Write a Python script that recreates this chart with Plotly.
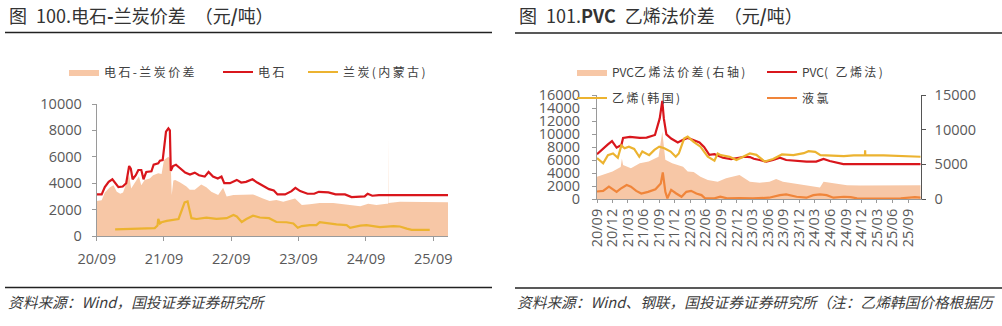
import plotly.graph_objects as go

W, H = 1002, 326

# ---------------- 图100：电石-兰炭价差 ----------------
cc_dates = [
    "2020-09-01", "2020-09-28", "2020-10-15", "2020-11-05", "2020-11-25", "2020-12-10",
    "2020-12-28", "2021-01-20", "2021-02-08", "2021-02-24", "2021-03-05", "2021-03-15",
    "2021-04-01", "2021-04-15", "2021-05-01", "2021-05-13", "2021-05-28", "2021-06-25",
    "2021-07-07", "2021-08-01", "2021-08-10", "2021-08-25", "2021-09-03", "2021-09-12",
    "2021-09-25", "2021-10-03", "2021-10-08", "2021-10-20", "2021-11-05", "2021-12-01",
    "2021-12-25", "2022-01-20", "2022-02-15", "2022-03-10", "2022-04-10", "2022-05-01",
    "2022-05-25", "2022-06-20", "2022-07-10", "2022-07-25", "2022-08-25", "2022-10-01",
    "2022-10-25", "2022-11-20", "2022-12-25", "2023-01-20", "2023-02-20", "2023-03-25",
    "2023-04-20", "2023-05-10", "2023-06-20", "2023-07-25", "2023-08-15", "2023-09-10",
    "2023-10-20", "2023-11-25", "2023-12-20", "2024-02-10", "2024-03-20", "2024-05-10",
    "2024-06-15", "2024-07-25", "2024-08-25", "2024-09-10", "2024-10-05", "2024-11-10",
    "2025-11-20",
]
cc_price = [
    3150, 3150, 3700, 4100, 4300, 4050,
    3700, 3750, 4000, 5300, 5100, 4300,
    4600, 5000, 5000, 4300, 4850, 4900,
    5400, 5500, 5700, 5750, 7000, 7900,
    8150, 8000, 4950, 5300, 5400, 5100,
    4800, 4650, 4800, 4600, 4500, 4850,
    4500, 4350, 4500, 4000, 4000, 4250,
    4050, 4100, 4300, 4050, 3800, 3550,
    3450, 3150, 3150, 3400, 3650, 3400,
    3200, 3200, 3350, 3300, 3150, 3150,
    2950, 2950, 3000, 3200, 3050, 3100,
    3100,
]

spread_dates = [
    "2020-09-01", "2020-09-28", "2020-10-15", "2020-11-12", "2020-12-01", "2020-12-19",
    "2021-01-07", "2021-01-22", "2021-02-24", "2021-03-07", "2021-03-25", "2021-04-18",
    "2021-05-01", "2021-05-19", "2021-06-16", "2021-07-04", "2021-08-01", "2021-08-19",
    "2021-09-01", "2021-09-25", "2021-10-07", "2021-10-13", "2021-10-22", "2021-11-01",
    "2021-11-28", "2022-01-01", "2022-01-19", "2022-02-15", "2022-03-22", "2022-04-19",
    "2022-05-16", "2022-06-22", "2022-07-19", "2022-08-07", "2022-09-13", "2022-10-28",
    "2022-12-28", "2023-02-20", "2023-03-28", "2023-05-04", "2023-06-10", "2023-08-13",
    "2023-09-19", "2023-11-01", "2023-12-25", "2024-03-07", "2024-05-19", "2024-08-01",
    "2024-09-13", "2024-10-28", "2024-12-22", "2024-12-30", "2024-12-31", "2025-01-01",
    "2025-03-04", "2025-06-19", "2025-11-20",
]
spread_vals = [
    2650, 2700, 3300, 3700, 3850, 3350,
    3200, 3300, 4600, 3600, 4000, 4500,
    3850, 4250, 4350, 4600, 4750, 4700,
    5750, 6000, 5800, 3100, 4200, 4250,
    4050, 3750, 3500, 3500, 3900, 3700,
    3350, 3100, 3650, 3000, 3100, 3100,
    3150, 2850, 2650, 2730, 2600, 2850,
    2350, 2400, 2500, 2500, 2400, 2250,
    2450, 2350, 2450, 2450, 7650, 2500,
    2600, 2600, 2550,
]

lc_dates = [
    "2020-12-10", "2021-02-28", "2021-06-16", "2021-07-13", "2021-07-28", "2021-08-01",
    "2021-08-10", "2021-08-19", "2021-09-16", "2021-10-22", "2021-11-19", "2021-12-07",
    "2021-12-22", "2022-01-07", "2022-01-16", "2022-01-28", "2022-02-25", "2022-04-19",
    "2022-06-13", "2022-08-07", "2022-09-13", "2022-10-01", "2022-10-28", "2022-11-22",
    "2022-12-28", "2023-02-03", "2023-03-25", "2023-05-04", "2023-06-28", "2023-08-04",
    "2023-08-28", "2023-09-19", "2023-11-01", "2023-12-07", "2023-12-25", "2024-02-01",
    "2024-03-25", "2024-05-19", "2024-06-07", "2024-08-01", "2024-09-04", "2024-10-10",
    "2024-11-16", "2025-01-28", "2025-03-04", "2025-04-10", "2025-05-07", "2025-08-13",
]
lc_price = [
    500, 530, 560, 600, 800, 1290,
    950, 1040, 1150, 1220, 1290, 1970,
    2550, 2620, 1970, 1350, 1290, 1390,
    1300, 1350, 1590, 1480, 1060, 1290,
    1540, 1400, 1350, 1060, 1040, 950,
    620, 750, 820, 820, 1040, 950,
    880, 820, 620, 780, 820, 750,
    680, 750, 720, 560, 470, 470,
]

left_tick_dates = ["2020-09-01", "2021-09-01", "2022-09-01", "2023-09-01", "2024-09-01", "2025-09-01"]
left_tick_text = ["20/09", "21/09", "22/09", "23/09", "24/09", "25/09"]
left_y_ticks = [0, 2000, 4000, 6000, 8000, 10000]

# ---------------- 图101：PVC乙烯法价差 ----------------
pvc_dates = [
    "2020-09-01", "2020-10-07", "2020-11-04", "2020-11-28", "2020-12-25", "2021-01-22",
    "2021-02-01", "2021-03-13", "2021-05-10", "2021-06-19", "2021-08-07", "2021-09-04",
    "2021-09-19", "2021-09-28", "2021-10-13", "2021-11-10", "2021-12-19", "2022-01-19",
    "2022-02-15", "2022-03-16", "2022-04-25", "2022-05-22", "2022-06-22", "2022-07-22",
    "2022-09-10", "2022-10-28", "2022-12-07", "2023-01-16", "2023-02-15", "2023-03-10",
    "2023-04-13", "2023-05-22", "2023-07-01", "2023-08-10", "2023-09-16", "2023-11-16",
    "2024-01-13", "2024-03-10", "2024-04-22", "2024-05-28", "2024-07-28", "2024-08-16",
    "2025-11-13",
]
pvc_price = [
    6900, 7800, 8400, 8900, 7900, 8300,
    9400, 9550, 9400, 9450, 9850, 12400,
    15100, 12400, 9950, 9300, 8700, 9100,
    9400, 9100, 8700, 8000, 6800, 6900,
    6350, 6150, 6350, 6500, 6450, 6200,
    6000, 5750, 6000, 6350, 6000, 5850,
    5750, 5750, 6150, 5850, 5500, 5380,
    5380,
]

eth_dates = [
    "2020-09-01", "2020-10-07", "2020-11-04", "2020-12-04", "2021-01-01", "2021-01-22",
    "2021-02-10", "2021-03-07", "2021-04-07", "2021-05-07", "2021-05-25", "2021-07-04",
    "2021-08-04", "2021-09-01", "2021-10-01", "2021-11-07", "2021-12-07", "2021-12-25",
    "2022-01-25", "2022-02-15", "2022-03-22", "2022-05-01", "2022-05-22", "2022-06-13",
    "2022-07-22", "2022-08-10", "2022-08-28", "2022-10-19", "2022-11-28", "2023-01-07",
    "2023-02-15", "2023-03-25", "2023-05-13", "2023-07-01", "2023-08-22", "2023-10-28",
    "2023-12-28", "2024-01-25", "2024-03-04", "2024-04-04", "2024-06-01", "2024-08-19",
    "2024-10-16", "2024-12-21", "2024-12-22", "2024-12-23", "2025-04-10", "2025-07-19",
    "2025-11-13",
]
eth_price = [
    6300, 5500, 6750, 7000, 6350, 8250,
    7800, 8050, 7700, 6500, 7300, 6750,
    7550, 8050, 7800, 7300, 6500, 7000,
    9300, 9600, 8800, 8050, 7300, 6500,
    5900, 7000, 6750, 6500, 6000, 6500,
    7000, 6800, 5750, 6150, 6850, 6750,
    7050, 7350, 7250, 6750, 6650, 6600,
    6700, 6700, 7500, 6700, 6700, 6650,
    6500,
]

cl_dates = [
    "2020-09-01", "2020-10-07", "2020-11-10", "2020-12-25", "2021-01-16", "2021-02-22",
    "2021-03-19", "2021-04-19", "2021-05-19", "2021-06-28", "2021-08-10", "2021-09-10",
    "2021-09-22", "2021-10-07", "2021-10-19", "2021-11-10", "2021-12-10", "2022-01-10",
    "2022-02-07", "2022-03-07", "2022-04-07", "2022-05-07", "2022-05-28", "2022-07-22",
    "2022-08-25", "2022-10-04", "2022-12-16", "2023-03-04", "2023-06-07", "2023-08-10",
    "2023-09-16", "2023-11-16", "2024-01-13", "2024-02-22", "2024-04-01", "2024-05-10",
    "2024-06-19", "2024-08-19", "2024-09-28", "2024-11-04", "2025-03-01", "2025-07-19",
    "2025-10-10", "2025-11-13",
]
cl_price = [
    1150, 1250, 1900, 1100, 1550, 2150,
    1900, 1250, 850, 1100, 1500, 2400,
    4100, 1100, 100, 1400, 850, 350,
    1100, 1250, 850, 600, 100, 100,
    350, 100, 150, 100, 200, 600,
    700, 350, 200, 600, 700, 600,
    200, 350, 300, 100, 50, 100,
    300, 200,
]

pvc_spread_dates = [
    "2020-09-01", "2020-12-01", "2021-01-18", "2021-01-25", "2021-02-01", "2021-03-19",
    "2021-05-10", "2021-07-01", "2021-08-28", "2021-09-19", "2021-10-07", "2021-11-16",
    "2022-01-19", "2022-02-15", "2022-03-22", "2022-05-01", "2022-06-13", "2022-08-10",
    "2022-09-28", "2022-12-16", "2023-02-15", "2023-04-13", "2023-06-10", "2023-07-19",
    "2023-08-28", "2023-10-28", "2023-12-25", "2024-02-22", "2024-04-01", "2024-04-22",
    "2024-06-19", "2024-09-07", "2024-11-25", "2025-04-10", "2025-11-13",
]
pvc_spread = [
    3200, 3950, 4600, 5850, 4900, 4450,
    5150, 5400, 6100, 9700, 5650, 5150,
    4650, 3950, 3900, 3200, 2750, 2500,
    3000, 3450, 2500, 2350, 2500, 2900,
    2500, 2250, 2000, 1800, 1650, 2500,
    2250, 2000, 1950, 2000, 2000,
]

right_tick_dates = [
    "2020-09-01", "2020-12-01", "2021-03-01", "2021-06-01", "2021-09-01", "2021-12-01",
    "2022-03-01", "2022-06-01", "2022-09-01", "2022-12-01", "2023-03-01", "2023-06-01",
    "2023-09-01", "2023-12-01", "2024-03-01", "2024-06-01", "2024-09-01", "2024-12-01",
    "2025-03-01", "2025-06-01", "2025-09-01",
]
right_tick_text = [
    "20/09", "20/12", "21/03", "21/06", "21/09", "21/12",
    "22/03", "22/06", "22/09", "22/12", "23/03", "23/06",
    "23/09", "23/12", "24/03", "24/06", "24/09", "24/12",
    "25/03", "25/06", "25/09",
]
right_y_left_ticks = list(range(0, 16001, 2000))
right_y_right_ticks = [0, 5000, 10000, 15000]

# ---------------- styling ----------------
RED = "#d9161c"
GOLD = "#ecb330"
PEACH = "#f7c7a6"
ORANGE = "#f0853a"
TICK_GRAY = "#595959"
AXIS_GRAY = "#9a9a9a"
CJK = "Noto Sans CJK SC"
NUM = "Open Sans"
EN = "\u2002"


def fx(px):
    return px / W


def fy(py):
    return 1 - py / H


def tracked(text):
    # small tracking between glyphs for the legend labels
    return "\u2009".join(text)


fig = go.Figure()

# left panel
fig.add_trace(go.Scatter(
    x=spread_dates, y=spread_vals, name=tracked("电石-兰炭价差"), mode="lines",
    line=dict(width=0, color=PEACH), fill="tozeroy", fillcolor=PEACH,
    xaxis="x", yaxis="y", legend="legend", hoverinfo="skip"))
fig.add_trace(go.Scatter(
    x=cc_dates, y=cc_price, name=tracked("电石"), mode="lines",
    line=dict(width=2.2, color=RED), xaxis="x", yaxis="y", legend="legend2"))
fig.add_trace(go.Scatter(
    x=lc_dates, y=lc_price, name=tracked("兰炭(内蒙古)"), mode="lines",
    line=dict(width=2.2, color=GOLD), xaxis="x", yaxis="y", legend="legend3"))

# right panel: spread area on the right-hand axis (base), prices overlaid on the left axis
fig.add_trace(go.Scatter(
    x=pvc_spread_dates, y=pvc_spread, name="PVC" + tracked("乙烯法价差(右轴)"), mode="lines",
    line=dict(width=0, color=PEACH), fill="tozeroy", fillcolor=PEACH,
    xaxis="x2", yaxis="y2", legend="legend4", hoverinfo="skip"))
fig.add_trace(go.Scatter(
    x=pvc_dates, y=pvc_price, name="PVC" + tracked("( 乙烯法)"), mode="lines",
    line=dict(width=2.2, color=RED), xaxis="x2", yaxis="y3", legend="legend5"))
fig.add_trace(go.Scatter(
    x=eth_dates, y=eth_price, name=tracked("乙烯(韩国)"), mode="lines",
    line=dict(width=2.2, color=GOLD), xaxis="x2", yaxis="y3", legend="legend6"))
fig.add_trace(go.Scatter(
    x=cl_dates, y=cl_price, name=tracked("液氯"), mode="lines",
    line=dict(width=2.2, color=ORANGE), xaxis="x2", yaxis="y3", legend="legend7"))

tick_font = dict(family=NUM, size=14.5, color=TICK_GRAY)

axis_common = dict(showgrid=False, zeroline=False, showline=True, linecolor=AXIS_GRAY,
                   linewidth=1, ticks="outside", tickcolor=AXIS_GRAY, ticklen=4,
                   tickfont=tick_font, fixedrange=True, automargin=False)

legend_common = dict(orientation="h", xanchor="left", yanchor="middle", xref="paper",
                     yref="paper", bgcolor="rgba(0,0,0,0)", borderwidth=0,
                     font=dict(family=CJK, size=12, color="#404040"),
                     tracegroupgap=0, itemclick=False, itemdoubleclick=False)

legend_pos = {
    "legend": (64, 72),
    "legend2": (218, 72),
    "legend3": (303, 72),
    "legend4": (572, 72),
    "legend5": (762, 72),
    "legend6": (572, 98),
    "legend7": (762, 98),
}

layout_legends = {k: dict(legend_common, x=fx(px), y=fy(py)) for k, (px, py) in legend_pos.items()}

fig.update_layout(
    width=W, height=H, margin=dict(l=0, r=0, t=0, b=0, autoexpand=False),
    paper_bgcolor="white", plot_bgcolor="rgba(0,0,0,0)",
    showlegend=True,
    xaxis=dict(axis_common, type="date", domain=[fx(96.7), fx(448)], anchor="y",
               range=["2020-09-01", "2025-11-20"],
               tickmode="array", tickvals=left_tick_dates, ticktext=left_tick_text,
               ticklabelstandoff=6),
    yaxis=dict(axis_common, domain=[fy(236), fy(104)], anchor="x", range=[0, 10000],
               tickmode="array", tickvals=left_y_ticks, tickformat="d",
               ticklabelstandoff=7),
    xaxis2=dict(axis_common, type="date", domain=[fx(597), fx(920.7)], anchor="y2",
                range=["2020-09-01", "2025-11-13"],
                tickmode="array", tickvals=right_tick_dates, ticktext=right_tick_text,
                tickangle=-90, ticklen=3),
    yaxis2=dict(axis_common, domain=[fy(199), fy(95)], anchor="x2", side="right",
                range=[0, 15000], tickmode="array", tickvals=right_y_right_ticks,
                tickformat="d", linecolor="#555555", tickcolor="#555555",
                ticklabelstandoff=6),
    yaxis3=dict(axis_common, overlaying="y2", anchor="x2", side="left",
                range=[0, 16000], tickmode="array", tickvals=right_y_left_ticks,
                tickformat="d", ticklabelstandoff=9),
    **layout_legends,
)

title_font = dict(family=CJK, size=18, color="#333333")
source_font = dict(family=CJK, size=14.7, color="#3c3c3c")

annotations = [
    dict(text=f"图{EN}100.电石<b>-</b>兰炭价差{EN}（元<b>/</b>吨）", x=fx(7), y=fy(15),
         xanchor="left", yanchor="middle", font=title_font),
    dict(text=f"图{EN}101.<b>PVC</b>{EN}乙烯法价差{EN}（元<b>/</b>吨）", x=fx(517), y=fy(15),
         xanchor="left", yanchor="middle", font=title_font),
    dict(text="<i>资料来源：Wind，国投证券证券研究所</i>", x=fx(6), y=fy(301),
         xanchor="left", yanchor="middle", font=source_font),
    dict(text="<i>资料来源：Wind、钢联，国投证券证券研究所（注：乙烯韩国价格根据历</i>",
         x=fx(515), y=fy(301), xanchor="left", yanchor="middle", font=source_font),
]
for a in annotations:
    a.update(xref="paper", yref="paper", showarrow=False)
fig.update_layout(annotations=annotations)

rules = [
    (5, 492, 32.5, "#222222", 1.5),
    (515, 1002, 33, "#222222", 1.5),
    (5, 492, 287.5, "#222222", 1.5),
    (515, 1002, 288, "#222222", 1.5),
]
fig.update_layout(shapes=[
    dict(type="line", xref="paper", yref="paper", x0=fx(a), x1=fx(b), y0=fy(y), y1=fy(y),
         line=dict(color=c, width=w)) for a, b, y, c, w in rules
])

fig.write_html("out.html", config={"displayModeBar": False})
